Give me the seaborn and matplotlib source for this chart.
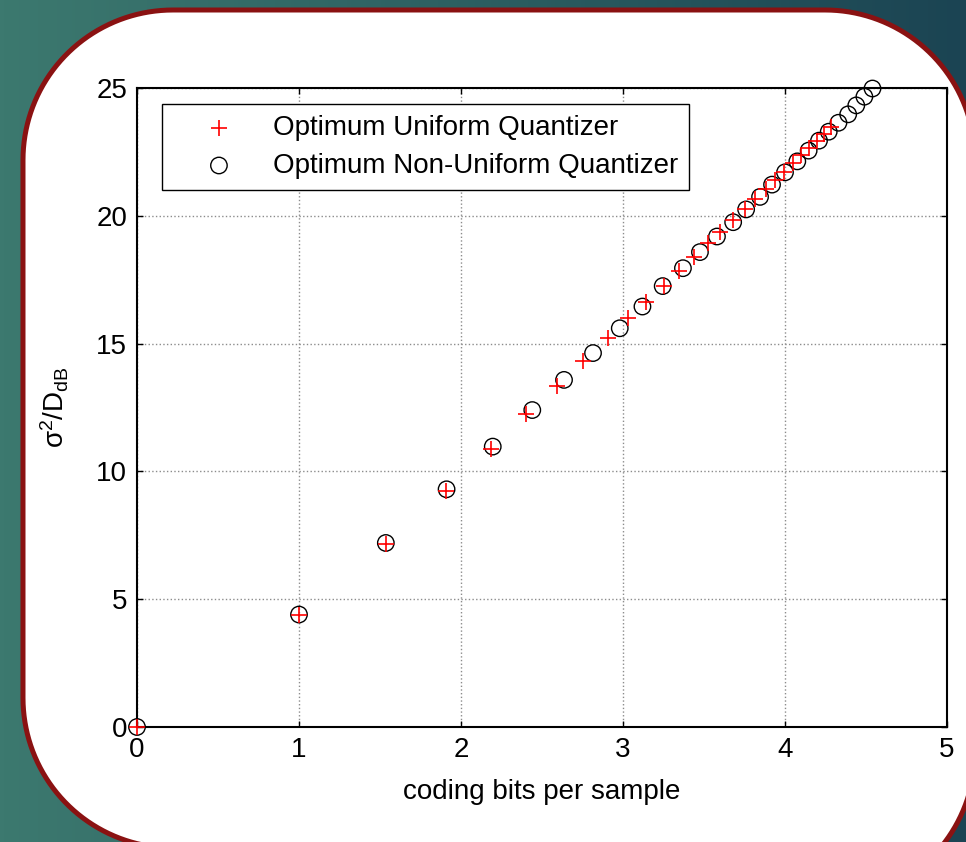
"""Rate-distortion style comparison: optimum uniform vs non-uniform quantizer (Gaussian source)."""
import numpy as np
import matplotlib.pyplot as plt
from matplotlib.colors import LinearSegmentedColormap
from matplotlib.patches import Polygon
import seaborn as sns

# entropy of quantizer output (bits/sample) and SNR sigma^2/D in dB
uni_bits = [0.0, 1.0, 1.54, 1.91, 2.185, 2.40, 2.59, 2.755, 2.91, 3.03, 3.14, 3.25, 3.345, 3.44,
            3.525, 3.60, 3.68, 3.75, 3.815, 3.88, 3.94, 3.995, 4.05, 4.10, 4.15, 4.195, 4.24, 4.285]
uni_snr = [0.0, 4.40, 7.16, 9.25, 10.86, 12.23, 13.34, 14.32, 15.21, 15.99, 16.61, 17.25, 17.84, 18.40,
           18.92, 19.38, 19.83, 20.25, 20.65, 21.03, 21.39, 21.73, 22.05, 22.36, 22.66, 22.94, 23.21, 23.47]

nonuni_bits = [0.0, 1.0, 1.536, 1.911, 2.196, 2.44, 2.636, 2.815, 2.98, 3.12, 3.245, 3.37, 3.475, 3.58,
               3.68, 3.76, 3.846, 3.92, 4.0, 4.076, 4.146, 4.21, 4.27, 4.33, 4.39, 4.44, 4.49, 4.54]
nonuni_snr = [0.0, 4.40, 7.20, 9.30, 10.97, 12.40, 13.58, 14.63, 15.60, 16.45, 17.25, 17.95, 18.58, 19.19,
              19.75, 20.25, 20.74, 21.22, 21.70, 22.13, 22.55, 22.94, 23.29, 23.64, 23.97, 24.32, 24.66, 24.98]

x_ticks = [0, 1, 2, 3, 4, 5]
y_ticks = [0, 5, 10, 15, 20, 25]
series_labels = ['Optimum Uniform Quantizer', 'Optimum Non-Uniform Quantizer']

sns.set_style('ticks')
plt.rcParams['font.family'] = ['Liberation Sans', 'DejaVu Sans']
plt.rcParams['text.color'] = 'black'
plt.rcParams['axes.labelcolor'] = 'black'
plt.rcParams['mathtext.fontset'] = 'custom'
plt.rcParams['mathtext.rm'] = 'Liberation Sans'
plt.rcParams['mathtext.it'] = 'Liberation Sans'
plt.rcParams['mathtext.default'] = 'regular'

W, H = 966, 842
fig = plt.figure(figsize=(W / 100, H / 100), dpi=100)

# slide background + white rounded card
bg = fig.add_axes([0, 0, 1, 1])
cmap = LinearSegmentedColormap.from_list('slide', ['#3c796f', '#1b4453'])
bg.imshow(np.linspace(0, 1, 256)[None, :], aspect='auto', cmap=cmap, extent=[0, W, H, 0])
R = 150
corners = [((173, 160), 180, 90), ((825, 160), 90, 0), ((825, 752), 0, -90), ((173, 698), -90, -180)]
pts = []
for (cx, cy), a0, a1 in corners:
    t = np.radians(np.linspace(a0, a1, 40))
    pts.append(np.column_stack([cx + R * np.cos(t), cy - R * np.sin(t)]))
bg.add_patch(Polygon(np.vstack(pts), closed=True, facecolor='white', edgecolor='#8a1212', lw=3.6))
bg.set_xlim(0, W)
bg.set_ylim(H, 0)
bg.axis('off')

ax = fig.add_axes([137 / W, 1 - 727 / H, 810 / W, 639 / H])
ax.grid(True, linestyle=':', color='#8c8c8c', linewidth=1.0)
ax.set_axisbelow(True)

sns.scatterplot(x=uni_bits, y=uni_snr, marker='+', color='red', s=130, linewidth=1.2,
                label=series_labels[0], ax=ax, zorder=3, clip_on=False)
sns.scatterplot(x=nonuni_bits, y=nonuni_snr, marker='o', facecolor='none', edgecolor='black', s=140,
                linewidth=1.0, label=series_labels[1], ax=ax, zorder=2, clip_on=False)

ax.set_xlim(0, 5)
ax.set_ylim(0, 25)
ax.set_xticks(x_ticks)
ax.set_yticks(y_ticks)
ax.tick_params(direction='in', length=4, width=1, top=True, right=True, labelsize=20, pad=7,
               colors='black', labelcolor='black')
for sp in ax.spines.values():
    sp.set_color('black')
    sp.set_linewidth(1.5)

ax.set_xlabel('coding bits per sample', fontsize=20, labelpad=12)
ax.set_ylabel(r'$\sigma^2/D_{dB}$', fontsize=20, labelpad=18)

leg = ax.legend(loc='upper left', bbox_to_anchor=(25 / 810, 1 - 16 / 639), frameon=True, fancybox=False,
                edgecolor='black', framealpha=1, fontsize=20, borderpad=0.4, labelspacing=0.42,
                handlelength=3.3, handletextpad=0.3, borderaxespad=0)
leg.get_frame().set_linewidth(1.0)
for txt in leg.get_texts():
    txt.set_color('black')

fig.savefig('out.png', dpi=100)
